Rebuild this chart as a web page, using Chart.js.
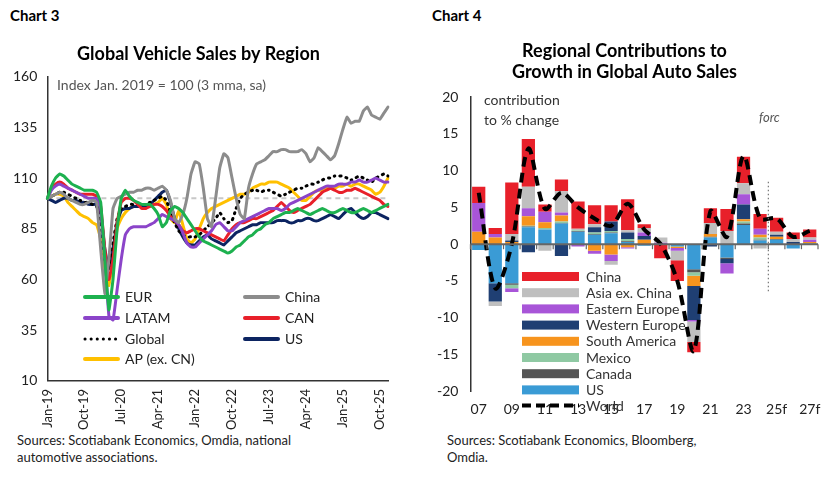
<!DOCTYPE html>
<html><head><meta charset="utf-8">
<script src="https://cdn.jsdelivr.net/npm/chart.js@4.4.1/dist/chart.umd.min.js"></script>
<style>
body{margin:0;width:828px;height:483px;background:#fff;font-family:Lato,sans-serif;position:relative;overflow:hidden}
.hd{position:absolute;top:6px;font-weight:bold;font-size:15px;color:#000}
.src{position:absolute;top:432px;font-size:13px;color:#222;line-height:17px}
canvas{position:absolute;top:0}
</style></head><body>
<div class="hd" style="left:10px">Chart 3</div>
<div class="hd" style="left:432px">Chart 4</div>
<canvas id="c3" width="414" height="432" style="left:0"></canvas>
<canvas id="c4" width="414" height="432" style="left:414px"></canvas>
<div class="src" style="left:17px">Sources: Scotiabank Economics, Omdia, national<br>automotive associations.</div>
<div class="src" style="left:447px">Sources: Scotiabank Economics, Bloomberg,<br>Omdia.</div>
<script>
// ---------- Chart 3 data ----------
const months = [];
const mn=['Jan','Feb','Mar','Apr','May','Jun','Jul','Aug','Sep','Oct','Nov','Dec'];
for(let y=19;y<=25;y++) for(let m=0;m<12;m++) months.push(mn[m]+'-'+y);
const eur = [100,106,110,112,111,109,107,106,105,104,104,104, 103,98,70,45,60,85,100,104,101,99,98,97, 97,97,95,92,86,88,94,96,95,93,90,87, 84,81,79,78,77,76,75,74,73,74,76,77, 79,81,82,84,85,87,88,90,91,92,93,93, 94,95,94,93,92,93,94,95,94,93,93,94, 95,94,93,93,94,95,94,93,94,95,96,97];
const china = [100,101,102,103,102,100,99,98,97,97,98,99, 98,75,53,70,95,100,101,102,103,103,104,104, 105,105,104,105,106,104,99,90,88,92,100,112, 118,117,105,90,86,100,115,122,120,110,100,92, 90,105,112,117,118,119,121,123,123,124,124,123, 123,123,124,122,118,120,125,123,121,119,121,127, 134,140,137,138,138,143,145,141,140,139,142,145];
const latam = [100,104,106,107,106,105,104,103,102,101,100,100, 100,95,70,42,40,55,70,82,85,86,86,86, 86,87,88,90,92,91,90,89,87,83,78,76, 76,78,80,82,84,87,88,86,84,84,86,88, 89,90,91,92,93,94,95,95,95,94,95,97, 98,99,100,101,102,103,104,105,106,106,106,107, 107,107,108,108,109,108,108,109,110,109,108,108];
const can = [100,105,107,108,107,105,104,103,102,102,102,102, 101,96,75,60,70,88,98,100,100,99,97,95, 95,96,97,97,96,94,91,89,87,84,83,84, 85,85,84,83,82,81,80,79,82,85,87,88, 88,89,90,90,91,92,93,94,96,98,96,94, 93,94,95,96,97,99,101,103,104,105,104,103, 103,104,104,105,104,103,102,101,100,99,97,96];
const glob = [100,101,102,103,103,102,101,100,99,98,98,97, 96,88,70,65,78,90,95,96,97,97,97,97, 97,98,99,100,101,99,93,88,84,82,81,81, 81,82,84,86,88,90,93,90,88,89,95,100, 102,103,104,104,103,104,104,103,102,101,102,103, 104,105,105,106,107,107,108,109,110,110,111,111, 111,110,109,110,111,110,109,108,110,111,112,111];
const ap = [100,101,102,102,101,98,96,94,92,91,90,88, 87,80,65,57,70,85,90,93,95,96,96,96, 96,96,97,98,100,97,90,88,94,87,80,78, 80,85,90,93,95,96,97,98,99,100,101,102, 102,103,105,106,107,107,108,108,108,107,106,105, 103,101,99,99,101,103,104,104,105,105,105,106, 106,107,106,107,107,106,105,104,102,103,106,110];
const us = [100,99,98,99,100,100,99,99,98,98,97,97, 97,93,75,65,75,88,94,95,95,96,96,96, 96,97,99,101,103,104,98,90,85,81,78,77, 77,79,81,82,80,79,78,77,79,81,83,84, 85,86,87,87,88,88,88,88,89,89,89,88, 88,89,89,90,90,89,89,90,91,92,91,90, 92,94,95,93,91,90,91,93,93,92,91,90];
const yTicks3 = [10,35,60,85,110,135,160];

// ---------- Chart 4 data ----------
const years = ['07','08','09','10','11','12','13','14','15','16','17','18','19','20','21','22','23','24','25f','26f','27f'];
const usC = [-0.8,-5.3,-5.3,2.3,2.0,2.8,1.7,1.3,1.5,0.3,-0.2,-0.1,-0.3,-3.4,0.9,-1.8,2.6,0.5,0.6,-0.6,0.1];
const canadaC = [0,0,-0.2,0.1,0,0.1,0.1,0.1,0.1,0.1,0,0,0,-0.4,0.1,-0.2,0.2,0.1,0.1,0,0];
const mexicoC = [0,0,-0.5,0.1,0.2,0.2,0.1,0.2,0.2,0.3,0,0,0,-0.5,0,0,0.3,0.3,0,0,0];
const saC = [1.7,0.9,0.3,1.3,0.8,0.8,0,-0.9,-1.4,-0.4,0.6,0,-0.2,-1.4,0.4,0,0.3,0.4,0.3,0,0.2];
const weC = [0,-2.5,0.2,-1.1,0,-1.6,0,0.7,1.3,0.9,0.5,0,0,-4.6,-0.3,-0.6,2.0,0,0.3,0.3,0];
const eeC = [3.9,0.5,-0.5,1.1,1.4,0.4,-0.3,-0.4,-0.9,-0.2,0.5,0.2,-0.4,-0.2,0,-1.4,1.4,0.8,0,0,0.3];
const asiaC = [0,-0.6,0.9,2.9,-0.9,2.9,0.2,0.4,-0.5,0.3,0.6,0.7,-1.3,-2.8,1.5,1.8,1.5,-0.6,0.4,0.4,0.3];
const chinaC = [2.2,0.8,7.0,6.5,1.0,1.6,3.7,2.6,2.2,4.2,0.5,-1.8,-2.8,-1.4,2.0,3.0,3.6,2.0,1.9,0.9,1.1];
const worldC = [7,-6,0,13,4.8,7,5,3.5,2.5,5.5,2,0,-5,-14.5,4.5,1,12,3.5,3.5,1,1.8];
const yTicks4 = [-20,-15,-10,-5,0,5,10,15,20];

const F = 'Lato';
Chart.defaults.font.family = F;
Chart.defaults.color = '#222';

// ---------- Chart 3 ----------
const ser3 = [
 {label:'EUR',data:eur,c:'#1db14f'},
 {label:'China',data:china,c:'#8c8c8c'},
 {label:'LATAM',data:latam,c:'#8b44c9'},
 {label:'CAN',data:can,c:'#e8202a'},
 {label:'Global',data:glob,c:'#000',dot:true},
 {label:'US',data:us,c:'#0c2461'},
 {label:'AP (ex. CN)',data:ap,c:'#ffc000'}
];
const legend3 = {id:'l3',afterDraw(ch){
  const c=ch.ctx; c.save(); c.font='14px '+F; c.textBaseline='middle';
  const pos=[[85,297],[245,297],[85,318],[245,318],[85,339],[245,339],[85,359]];
  ser3.forEach((s,i)=>{const [x,y]=pos[i];
    c.strokeStyle=s.c; c.lineWidth=s.dot?3:4; c.lineCap='round';
    c.setLineDash(s.dot?[0.1,6]:[]);
    c.beginPath(); c.moveTo(x,y); c.lineTo(x+33,y); c.stroke();
    c.setLineDash([]); c.fillStyle='#222'; c.fillText(s.label,x+40,y);});
  c.fillStyle='#555'; c.font='14px '+F; c.textBaseline='alphabetic';
  c.fillText('Index Jan. 2019 = 100 (3 mma, sa)',57,90);
  c.restore();}};
const ref100 = {id:'r100',beforeDatasetsDraw(ch){
  const c=ch.ctx,a=ch.chartArea,y=ch.scales.y.getPixelForValue(100);
  c.save(); c.strokeStyle='#c8c8c8'; c.lineWidth=2; c.setLineDash([5,4]);
  c.beginPath(); c.moveTo(a.left,y); c.lineTo(a.right,y); c.stroke(); c.restore();}};
new Chart(document.getElementById('c3'),{
 type:'line',
 data:{labels:months,datasets:ser3.map(s=>({label:s.label,data:s.data,borderColor:s.c,
   borderWidth:3,borderDash:s.dot?[1,5]:[],borderCapStyle:'round',pointRadius:0,tension:0.1,fill:false}))},
 options:{responsive:false,animation:false,
  layout:{padding:{top:0,right:26,left:9,bottom:2}},
  plugins:{legend:{display:false},tooltip:{enabled:false},
   title:{display:true,text:'Global Vehicle Sales by Region',font:{size:18,weight:'bold'},color:'#000',padding:{top:43,bottom:12}}},
  scales:{
   x:{grid:{display:false,drawTicks:true},border:{color:'#333',width:1.5},
      ticks:{autoSkip:false,maxRotation:90,minRotation:90,font:{size:13},color:'#222',padding:0,
        callback:(v,i)=>i%9===0?months[i]:''}},
   y:{min:10,max:160,afterBuildTicks:ax=>{ax.ticks=yTicks3.map(v=>({value:v}));},
      grid:{display:false,drawTicks:true,tickLength:6},border:{color:'#333',width:1.5},
      ticks:{font:{size:14},color:'#222',padding:4}}
  }},
 plugins:[ref100,legend3]
});

// ---------- Chart 4 ----------
const ser4 = [
 {label:'US',data:usC,c:'#3a9bd5'},
 {label:'Canada',data:canadaC,c:'#555555'},
 {label:'Mexico',data:mexicoC,c:'#8fc9a3'},
 {label:'South America',data:saC,c:'#f7941d'},
 {label:'Western Europe',data:weC,c:'#1f3f73'},
 {label:'Eastern Europe',data:eeC,c:'#a855d8'},
 {label:'Asia ex. China',data:asiaC,c:'#bfbfbf'},
 {label:'China',data:chinaC,c:'#e8202a'}
];
const legend4 = {id:'l4',afterDraw(ch){
  const c=ch.ctx; c.save(); c.font='14px '+F; c.textBaseline='middle';
  const items=[...ser4].reverse(); let y=276;
  items.forEach(s=>{c.fillStyle=s.c; c.fillRect(108,y-4,57,9);
    c.fillStyle='#333'; c.fillText(s.label,172,y+1); y+=16.2;});
  c.strokeStyle='#000'; c.lineWidth=4; c.setLineDash([9,5]);
  c.beginPath(); c.moveTo(108,y); c.lineTo(165,y); c.stroke(); c.setLineDash([]);
  c.fillStyle='#333'; c.fillText('World',172,y+1);
  const xs=ch.scales.x,ys=ch.scales.y;
  const fx=(xs.getPixelForValue(17)+xs.getPixelForValue(18))/2;
  c.strokeStyle='#777'; c.lineWidth=1.2; c.setLineDash([1.5,2.5]);
  c.beginPath(); c.moveTo(fx,ys.getPixelForValue(8.5)); c.lineTo(fx,ys.getPixelForValue(-6.5)); c.stroke();
  c.setLineDash([]); c.fillStyle='#555'; c.font='italic 13px '+F; c.textAlign='center';
  c.fillText('forc',fx+1,ys.getPixelForValue(17.2));
  c.textAlign='left'; c.font='14px '+F; c.fillStyle='#333';
  c.fillText('contribution',70,ys.getPixelForValue(19.5)); c.fillText('to % change',70,ys.getPixelForValue(16.8));
  c.restore();}};
const zero4 = {id:'z4',afterDatasetsDraw(ch){
  const c=ch.ctx,a=ch.chartArea,xs=ch.scales.x,y=ch.scales.y.getPixelForValue(0);
  c.save(); c.strokeStyle='#666'; c.lineWidth=2;
  c.beginPath(); c.moveTo(a.left,y); c.lineTo(a.right,y); c.stroke();
  c.lineWidth=1.2;
  for(let i=0;i<=years.length;i++){const x=xs.getPixelForValue(i-0.5);c.beginPath();c.moveTo(x,y);c.lineTo(x,y+5);c.stroke();}
  c.restore();}};
new Chart(document.getElementById('c4'),{
 data:{labels:years,datasets:[
   {type:'line',label:'World',data:worldC,borderColor:'#000',borderWidth:4,borderDash:[10,6],pointRadius:0,tension:0.3,order:0},
   ...ser4.map(s=>({type:'bar',label:s.label,data:s.data,backgroundColor:s.c,categoryPercentage:0.8,barPercentage:1,order:1}))]},
 options:{responsive:false,animation:false,
  layout:{padding:{top:8,right:10,left:17,bottom:12}},
  plugins:{legend:{display:false},tooltip:{enabled:false},
   title:{display:true,text:['Regional Contributions to','Growth in Global Auto Sales'],font:{size:18,weight:'bold'},color:'#000',padding:{top:32,bottom:14},lineHeight:1.35}},
  scales:{
   x:{stacked:true,grid:{display:false},border:{display:false},
      ticks:{autoSkip:false,maxRotation:0,font:{size:14},color:'#222',padding:2,callback:(v,i)=>i%2===0?years[i]:''}},
   y:{stacked:true,min:-20,max:20,afterBuildTicks:ax=>{ax.ticks=yTicks4.map(v=>({value:v}));},
      grid:{display:false,drawTicks:true,tickLength:6},border:{color:'#333',width:1.5},
      ticks:{font:{size:14},color:'#222',padding:6}}
  }},
 plugins:[zero4,legend4]
});
</script></body></html>
